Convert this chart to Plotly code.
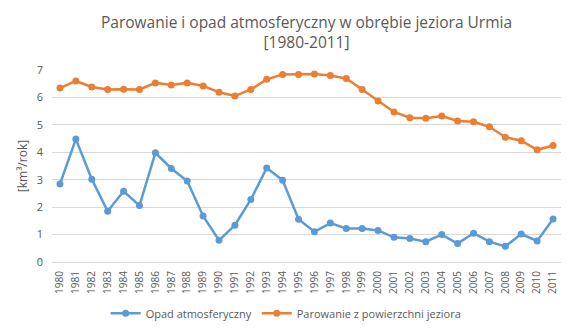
import plotly.graph_objects as go

years = [str(y) for y in range(1980, 2012)]

opad = [2.84, 4.48, 3.02, 1.85, 2.58, 2.06, 3.98, 3.41, 2.95, 1.68,
        0.79, 1.34, 2.28, 3.43, 2.98, 1.56, 1.10, 1.42, 1.22, 1.22,
        1.15, 0.90, 0.86, 0.74, 1.00, 0.67, 1.05, 0.74, 0.57, 1.02,
        0.77, 1.57]

parowanie = [6.34, 6.60, 6.38, 6.29, 6.30, 6.29, 6.53, 6.45, 6.53, 6.42,
             6.19, 6.05, 6.29, 6.66, 6.84, 6.84, 6.85, 6.80, 6.69, 6.29,
             5.87, 5.47, 5.26, 5.24, 5.32, 5.14, 5.11, 4.93, 4.55, 4.42,
             4.09, 4.25]

y_ticks = [0, 1, 2, 3, 4, 5, 6, 7]

text_color = "#595959"
font_family = "Open Sans, Liberation Sans, sans-serif"

fig = go.Figure()
fig.add_trace(go.Scatter(
    x=years, y=opad, name="Opad atmosferyczny", mode="lines+markers",
    line=dict(color="#5B9BD5", width=2.5),
    marker=dict(color="#5B9BD5", size=7),
))
fig.add_trace(go.Scatter(
    x=years, y=parowanie, name="Parowanie z powierzchni jeziora", mode="lines+markers",
    line=dict(color="#ED7D31", width=2.5),
    marker=dict(color="#ED7D31", size=7),
))

# chart title as a centred two-line annotation above the plot area
fig.add_annotation(
    text="Parowanie i opad atmosferyczny w obrębie jeziora Urmia<br>[1980-2011]",
    xref="paper", yref="paper", x=0.5, y=1.20, xanchor="center", yanchor="middle",
    showarrow=False, align="center",
    font=dict(size=15.5, color=text_color, family=font_family),
)

fig.update_layout(
    width=570, height=328,
    margin=dict(l=52, r=9, t=70, b=66, autoexpand=False),
    paper_bgcolor="white", plot_bgcolor="white",
    font=dict(family=font_family, color=text_color, size=11),
    showlegend=True,
    legend=dict(
        orientation="h", x=0.46, xanchor="center",
        yref="container", y=0.045, yanchor="middle",
        font=dict(size=11, color=text_color),
    ),
    xaxis=dict(
        type="category", range=[-0.5, len(years) - 0.5],
        tickangle=-90, showgrid=False, automargin=False,
        showline=True, linecolor="#D9D9D9", linewidth=1,
        ticks="", tickfont=dict(size=10, color=text_color), ticklabelstandoff=4,
    ),
    yaxis=dict(
        range=[0, 7], tickvals=y_ticks, showgrid=True, gridcolor="#D9D9D9",
        gridwidth=1, zeroline=False, showline=False, ticks="", automargin=False,
        tickfont=dict(size=11, color=text_color), ticklabelstandoff=8,
        title=dict(text="[km³/rok]", font=dict(size=12, color=text_color), standoff=6),
    ),
)

fig.write_html("out.html")
